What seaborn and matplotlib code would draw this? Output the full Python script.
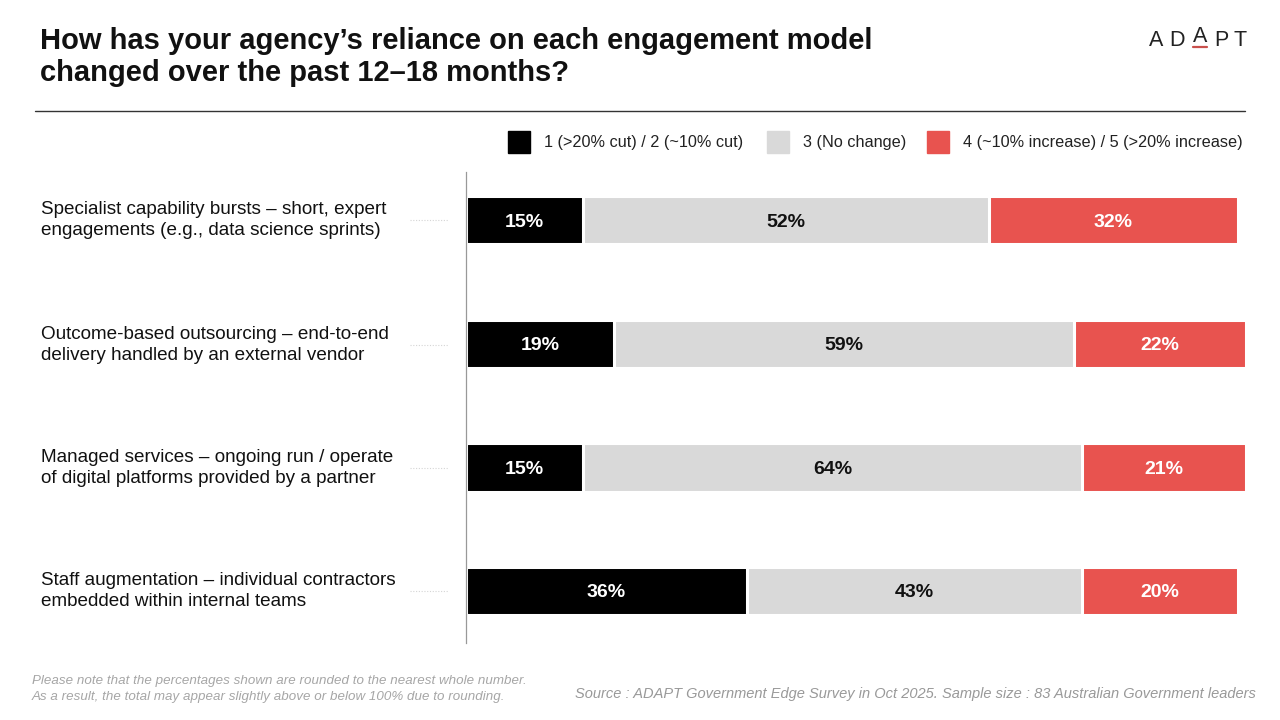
import matplotlib.pyplot as plt
import seaborn as sns
import pandas as pd
from matplotlib.lines import Line2D

sns.set_theme(style="white")
plt.rcParams['font.family'] = ['Liberation Sans', 'DejaVu Sans']

# Survey results (%), one row per engagement model
models = [
    "Specialist capability bursts \u2013 short, expert\nengagements (e.g., data science sprints)",
    "Outcome-based outsourcing \u2013 end-to-end\ndelivery handled by an external vendor",
    "Managed services \u2013 ongoing run / operate\nof digital platforms provided by a partner",
    "Staff augmentation \u2013 individual contractors\nembedded within internal teams",
]
cut = [15, 19, 15, 36]
no_change = [52, 59, 64, 43]
increase = [32, 22, 21, 20]

legend_labels = ["1 (>20% cut) / 2 (~10% cut)", "3 (No change)",
                 "4 (~10% increase) / 5 (>20% increase)"]
colors = ["#000000", "#d9d9d9", "#e8534f"]
text_colors = ["white", "#111111", "white"]

df = pd.DataFrame({"model": models, "cut": cut, "no_change": no_change, "increase": increase})
df["c1"] = df["cut"]
df["c2"] = df["cut"] + df["no_change"]
df["c3"] = df["c2"] + df["increase"]

fig = plt.figure(figsize=(12.8, 7.2), dpi=100)
ax = fig.add_axes([466 / 1280, 1 - 643 / 720, 780 / 1280, 471 / 720])

# stacked bars drawn as overlapping cumulative totals, widest first
for col, color in zip(["c3", "c2", "c1"], colors[::-1]):
    sns.barplot(data=df, x=col, y="model", orient="h", color=color, width=0.39,
                saturation=1, edgecolor="white", linewidth=2.2, ax=ax, zorder=2)

ax.set_xlim(0, 100)
ax.set_ylim(3.42, -0.39)
ax.set_xlabel("")
ax.set_ylabel("")
ax.set_xticks([])
ax.set_yticks([])
for s in ["top", "right", "bottom"]:
    ax.spines[s].set_visible(False)
ax.spines["left"].set_color("#999999")
ax.spines["left"].set_linewidth(0.9)
ax.spines["left"].set_zorder(5)

# value labels
for i, row in df.iterrows():
    starts = [0, row["c1"], row["c2"]]
    vals = [row["cut"], row["no_change"], row["increase"]]
    for s, v, tc in zip(starts, vals, text_colors):
        ax.text(s + v / 2, i + 0.015, f"{v}%", ha="center", va="center", color=tc,
                fontsize=14, fontweight="bold", zorder=6)

# category labels with dotted leaders
centers = [220, 345, 468, 591]
for lab, yc in zip(models, centers):
    fig.text(41 / 1280, 1 - yc / 720, lab, ha="left", va="center", fontsize=13.6,
             color="#111111", linespacing=1.32)
    fig.add_artist(Line2D([410 / 1280, 448 / 1280], [1 - yc / 720] * 2, transform=fig.transFigure,
                          color="#d5d5d5", linestyle=(0, (1, 1.5)), linewidth=0.8))

# title and rule
fig.text(40 / 1280, 1 - 57 / 720,
         "How has your agency\u2019s reliance on each engagement model\nchanged over the past 12\u201318 months?",
         ha="left", va="center", fontsize=21, fontweight="bold", color="#111111", linespacing=1.2)
fig.add_artist(Line2D([35 / 1280, 1245 / 1280], [1 - 111 / 720] * 2, transform=fig.transFigure,
                      color="#333333", linewidth=1.0))

# logo
for ch, x, y in zip("ADAPT", [1156, 1177, 1200, 1221, 1240], [40, 40, 36, 40, 40]):
    fig.text(x / 1280, 1 - y / 720, ch, ha="center", va="center", fontsize=15.5, color="#222222")
fig.add_artist(Line2D([1193 / 1280, 1207 / 1280], [1 - 47 / 720] * 2, transform=fig.transFigure,
                      color="#c9504c", linewidth=1.6))

# legend
leg_x = [508, 767, 927]
for lab, color, x in zip(legend_labels, colors, leg_x):
    fig.patches.append(plt.Rectangle((x / 1280, 1 - 153 / 720), 22 / 1280, 22 / 720,
                                     transform=fig.transFigure, color=color))
    fig.text((x + 36) / 1280, 1 - 142 / 720, lab, ha="left", va="center", fontsize=11.7, color="#222222")

# footnotes
fig.text(32 / 1280, 1 - 681 / 720,
         "Please note that the percentages shown are rounded to the nearest whole number.",
         ha="left", va="center", fontsize=9.6, style="italic", color="#a6a6a6")
fig.text(32 / 1280, 1 - 697 / 720,
         "As a result, the total may appear slightly above or below 100% due to rounding.",
         ha="left", va="center", fontsize=9.6, style="italic", color="#a6a6a6")
fig.text(1256 / 1280, 1 - 694 / 720,
         "Source : ADAPT Government Edge Survey in Oct 2025. Sample size : 83 Australian Government leaders",
         ha="right", va="center", fontsize=10.5, style="italic", color="#999999")

fig.savefig("out.png", dpi=100)
